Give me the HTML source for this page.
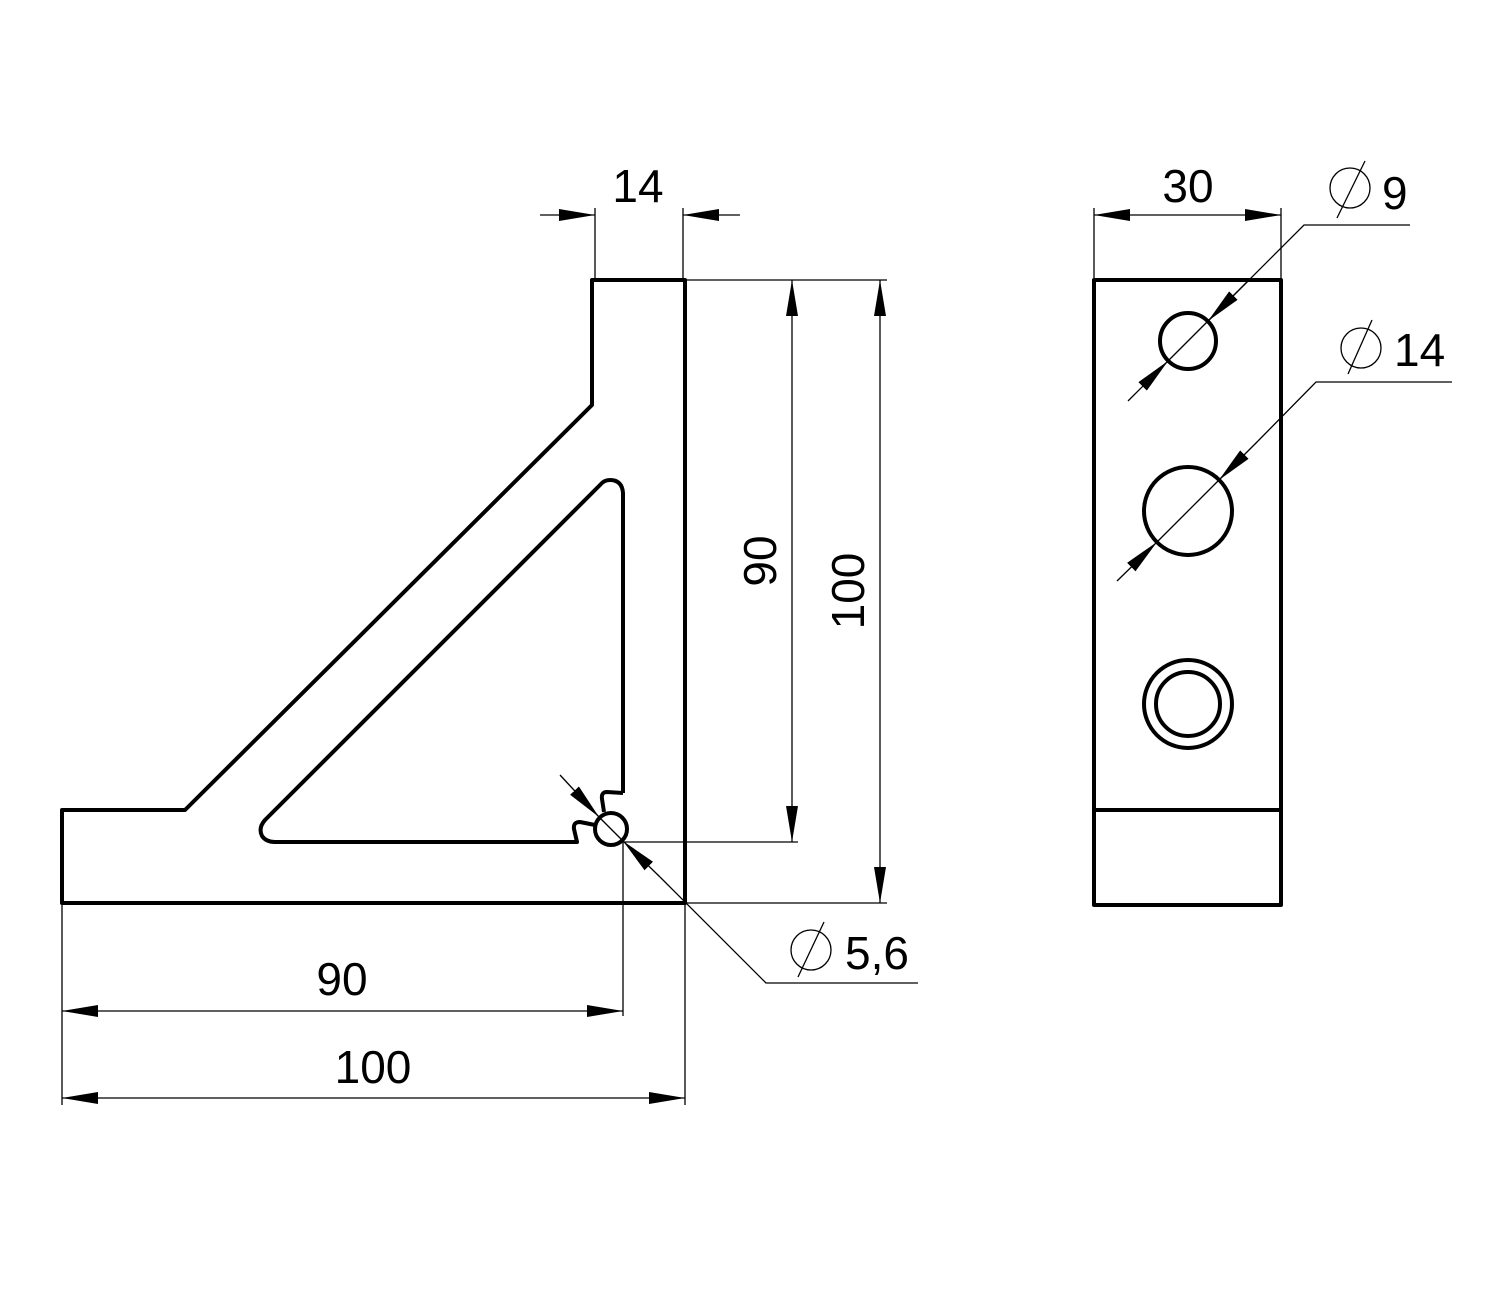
<!DOCTYPE html>
<html><head><meta charset="utf-8"><style>
html,body{margin:0;padding:0;background:#fff}
svg{display:block}
text{font-family:"Liberation Sans","DejaVu Sans",sans-serif;fill:#000}
</style></head><body>
<svg width="1500" height="1300" viewBox="0 0 1500 1300" xmlns="http://www.w3.org/2000/svg">
<defs>
<marker id="a" viewBox="0 0 36 12" refX="36" refY="6" markerWidth="36" markerHeight="12" markerUnits="userSpaceOnUse" orient="auto-start-reverse">
<path d="M0,0 L36,6 L0,12 Z" fill="#000"/></marker>
</defs>
<g fill="none" stroke="#000" stroke-width="4" stroke-linejoin="round">
<path d="M62,810 L185,810 L592,405 L592,280 L685,280 L685,903 L62,903 Z"/>
<path d="M623,793 L623,493 Q622,480 610,480 Q604,480 600,485 L265,820 Q258,828 262,836 Q266,842 275,842 L577,842 L574,829 Q573,822 580,822 L595,825"/>
<path d="M623,793 L607,792 Q601,792 602,799 L604,812"/>
<circle cx="611" cy="829" r="16"/>
<rect x="1094" y="280" width="187" height="625"/>
<line x1="1094" y1="810" x2="1281" y2="810"/>
<circle cx="1188" cy="341" r="28"/>
<circle cx="1188" cy="511" r="44"/>
<circle cx="1188" cy="704" r="44"/>
<circle cx="1188" cy="704" r="32"/>
</g>
<g fill="none" stroke="#000" stroke-width="1.3">
<line x1="595" y1="278" x2="595" y2="208"/><line x1="683" y1="278" x2="683" y2="208"/>
<line x1="685" y1="280" x2="887" y2="280"/><line x1="623" y1="842" x2="798" y2="842"/><line x1="685" y1="903" x2="887" y2="903"/>
<line x1="62" y1="905" x2="62" y2="1105"/><line x1="623" y1="842" x2="623" y2="1016"/><line x1="685" y1="903" x2="685" y2="1105"/>
<line x1="1094" y1="278" x2="1094" y2="208"/><line x1="1281" y1="278" x2="1281" y2="208"/>
<line x1="540" y1="215" x2="595" y2="215" marker-end="url(#a)"/>
<line x1="740" y1="215" x2="683" y2="215" marker-end="url(#a)"/>
<line x1="792" y1="280" x2="792" y2="842" marker-start="url(#a)" marker-end="url(#a)"/>
<line x1="880" y1="280" x2="880" y2="903" marker-start="url(#a)" marker-end="url(#a)"/>
<line x1="62" y1="1011" x2="623" y2="1011" marker-start="url(#a)" marker-end="url(#a)"/>
<line x1="62" y1="1098" x2="685" y2="1098" marker-start="url(#a)" marker-end="url(#a)"/>
<line x1="1094" y1="215" x2="1281" y2="215" marker-start="url(#a)" marker-end="url(#a)"/>
<line x1="560" y1="775" x2="599" y2="817" marker-end="url(#a)"/>
<line x1="599" y1="817" x2="623" y2="841"/>
<line x1="660" y1="877" x2="623" y2="841" marker-end="url(#a)"/>
<polyline points="660,877 766,983 918,983"/>
<line x1="1128" y1="401" x2="1168" y2="361" marker-end="url(#a)"/>
<line x1="1168" y1="361" x2="1208" y2="321"/>
<polyline points="1208,321 1304,225 1410,225" />
<line x1="1250" y1="279" x2="1208" y2="321" marker-end="url(#a)"/>
<line x1="1117" y1="581" x2="1157" y2="542" marker-end="url(#a)"/>
<line x1="1157" y1="542" x2="1219" y2="480"/>
<line x1="1258" y1="441" x2="1219" y2="480" marker-end="url(#a)"/>
<polyline points="1258,441 1316,382 1452,382"/>
<circle cx="1350" cy="188" r="20"/><line x1="1365" y1="161" x2="1337" y2="218"/>
<circle cx="1361" cy="348" r="20"/><line x1="1372" y1="320" x2="1348" y2="374"/>
<circle cx="811" cy="950" r="20"/><line x1="824" y1="922" x2="798" y2="977"/>
</g>
<g font-size="46">
<text x="638" y="202" text-anchor="middle">14</text>
<text x="1188" y="202" text-anchor="middle">30</text>
<text x="342" y="995" text-anchor="middle">90</text>
<text x="373" y="1083" text-anchor="middle">100</text>
<text x="1382" y="209">9</text>
<text x="1394" y="366">14</text>
<text x="845" y="969">5,6</text>
<text transform="translate(776,561) rotate(-90)" text-anchor="middle">90</text>
<text transform="translate(864,591) rotate(-90)" text-anchor="middle">100</text>
</g>
</svg>
</body></html>
